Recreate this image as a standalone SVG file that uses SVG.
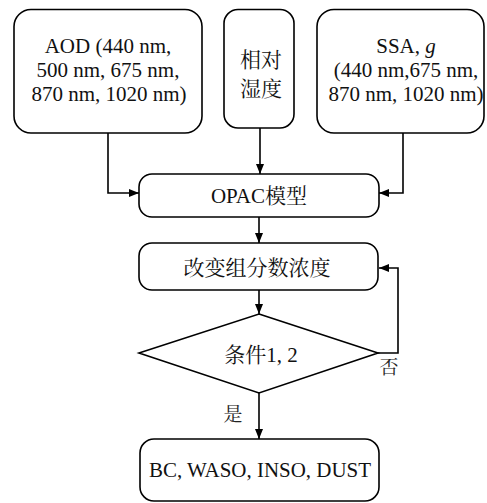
<svg xmlns="http://www.w3.org/2000/svg" width="487" height="503" viewBox="0 0 487 503">
<style>
.box{fill:#fff;stroke:#000;stroke-width:1.6}
.ln{fill:none;stroke:#000;stroke-width:1.6}
</style>
<defs>
<marker id="ah" viewBox="0 0 10 8" refX="10" refY="4" markerWidth="10" markerHeight="8" markerUnits="userSpaceOnUse" orient="auto">
<path d="M0,0 L10,4 L0,8 Z" fill="#000"/>
</marker>
</defs>
<rect width="487" height="503" fill="#fff"/>
<g id="connectors">
<path class="ln" d="M108,133 V193 H139" marker-end="url(#ah)"/>
<path class="ln" d="M260,128 V174" marker-end="url(#ah)"/>
<path class="ln" d="M403,133 V193 H379" marker-end="url(#ah)"/>
<path class="ln" d="M259,217 V243" marker-end="url(#ah)"/>
<path class="ln" d="M259,290 V314" marker-end="url(#ah)"/>
<path class="ln" d="M378,353 H398 V268 H379" marker-end="url(#ah)"/>
<path class="ln" d="M259,393 V439" marker-end="url(#ah)"/>
<g font-family="Liberation Serif, Noto Serif CJK SC, Noto Sans CJK SC, serif" font-size="19" fill="#222" text-anchor="middle">
<text x="389" y="374">否</text>
<text x="233" y="421">是</text>
</g>
</g>
<g font-family="Liberation Serif, Noto Serif CJK SC, Noto Sans CJK SC, serif" font-size="21" fill="#111" text-anchor="middle">
<g id="aod">
<rect class="box" x="14" y="9.5" width="188" height="123.5" rx="17"/>
<text x="108" y="53">AOD (440 nm,</text>
<text x="108" y="77">500 nm, 675 nm,</text>
<text x="109" y="101">870 nm, 1020 nm)</text>
</g>
<g id="rh">
<rect class="box" x="224" y="9.5" width="70" height="118.5" rx="14"/>
<text x="261" y="67">相对</text>
<text x="261" y="96">湿度</text>
</g>
<g id="ssa">
<rect class="box" x="317" y="9.5" width="167" height="123.5" rx="17"/>
<text x="406" y="53">SSA, <tspan font-style="italic">g</tspan></text>
<text x="406" y="77">(440 nm,675 nm,</text>
<text x="406" y="101">870 nm, 1020 nm)</text>
</g>
<g id="opac">
<rect class="box" x="139" y="174" width="240" height="43" rx="13"/>
<text x="259" y="203">OPAC模型</text>
</g>
<g id="change">
<rect class="box" x="139" y="243" width="239" height="47" rx="13"/>
<text x="257" y="275">改变组分数浓度</text>
</g>
<g id="cond">
<polygon class="box" points="259,314 378,353 259,393 139,353"/>
<text x="261" y="362">条件1, 2</text>
</g>
<g id="out">
<rect class="box" x="140" y="439" width="239" height="62" rx="14"/>
<text x="260" y="477" textLength="222" lengthAdjust="spacingAndGlyphs">BC, WASO, INSO, DUST</text>
</g>
</g>
</svg>
